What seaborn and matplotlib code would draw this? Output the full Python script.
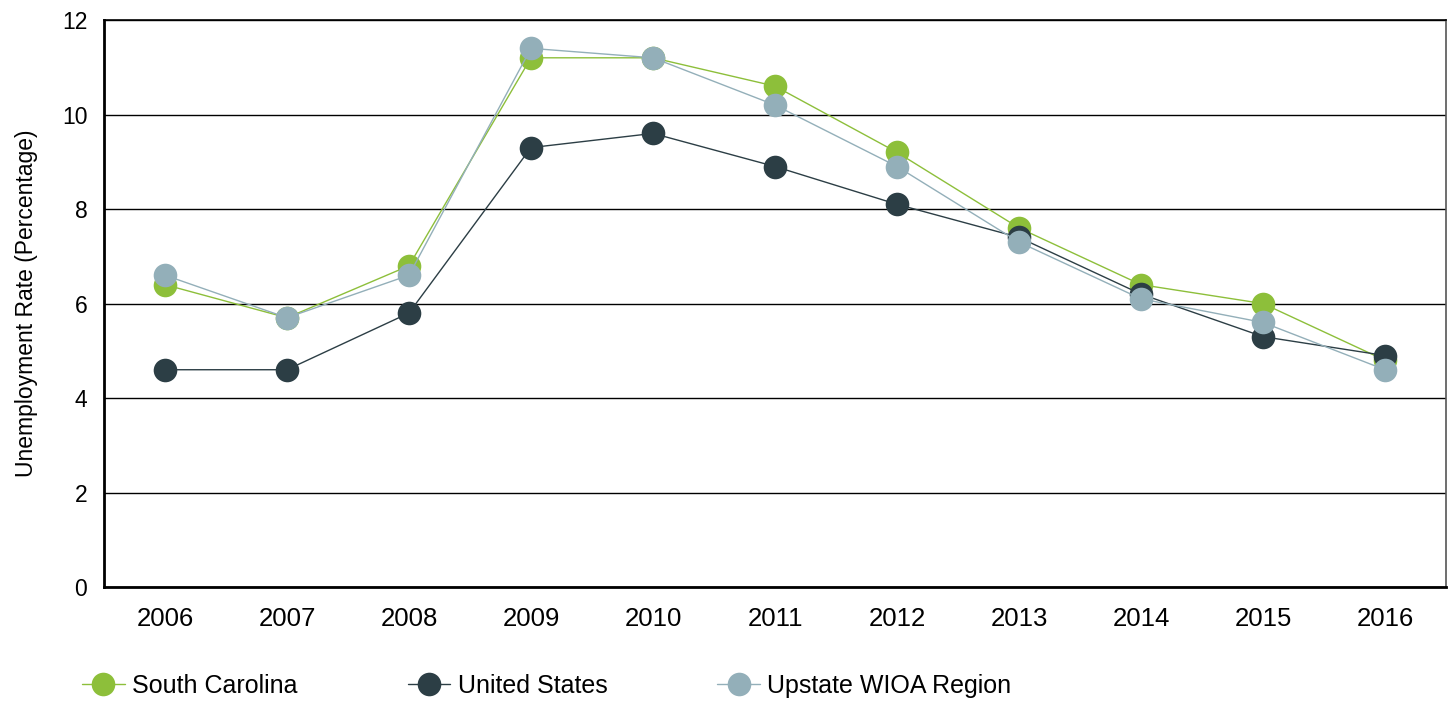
import pandas as pd
import seaborn as sns
import matplotlib.pyplot as plt

years = ["2006", "2007", "2008", "2009", "2010", "2011",
         "2012", "2013", "2014", "2015", "2016"]
south_carolina = [6.4, 5.7, 6.8, 11.2, 11.2, 10.6, 9.2, 7.6, 6.4, 6.0, 4.8]
united_states = [4.6, 4.6, 5.8, 9.3, 9.6, 8.9, 8.1, 7.4, 6.2, 5.3, 4.9]
upstate = [6.6, 5.7, 6.6, 11.4, 11.2, 10.2, 8.9, 7.3, 6.1, 5.6, 4.6]
series = ["South Carolina", "United States", "Upstate WIOA Region"]
colors = ["#8dbf3a", "#2c3e45", "#93afb9"]

df = pd.DataFrame({
    "Year": years * 3,
    "Rate": south_carolina + united_states + upstate,
    "Series": [s for s in series for _ in years],
})

sns.set_style("white")
plt.rcParams["font.family"] = ["Liberation Sans", "DejaVu Sans"]

fig = plt.figure(figsize=(14.52, 7.04), dpi=100)
ax = fig.add_axes([0.0716, 0.166, 0.9243, 0.8056])

sns.lineplot(
    data=df, x="Year", y="Rate", hue="Series", hue_order=series,
    palette=dict(zip(series, colors)), marker="o", markersize=17,
    markeredgewidth=0, linewidth=1, sort=False, ax=ax, legend=True,
)

ax.set_ylim(0, 12)
ax.set_xlim(-0.5, 10.5)
ax.set_yticks(range(0, 13, 2))
ax.yaxis.grid(True, color="black", linewidth=1)
ax.set_axisbelow(True)
ax.set_xlabel("")
ax.set_ylabel("Unemployment Rate (Percentage)", fontsize=16.5, labelpad=17,
              color="black")
ax.tick_params(axis="both", length=0, labelcolor="black")
ax.tick_params(axis="x", pad=14, labelsize=18.5)
ax.tick_params(axis="y", pad=12, labelsize=16.5)

for side in ["left", "bottom"]:
    ax.spines[side].set_color("black")
    ax.spines[side].set_linewidth(2)
ax.spines["top"].set_color("black")
ax.spines["top"].set_linewidth(1.2)
ax.spines["right"].set_color("#555555")
ax.spines["right"].set_linewidth(1.2)

handles, labels = ax.get_legend_handles_labels()
ax.get_legend().remove()
leg = fig.legend(handles, labels, loc="center left",
                 bbox_to_anchor=(82 / 1452, 1 - 686 / 704),
                 ncol=3, frameon=False, fontsize=18, columnspacing=4.4,
                 handlelength=1.7, handletextpad=0.3, borderpad=0,
                 borderaxespad=0)
for t in leg.get_texts():
    t.set_color("black")

fig.savefig("out.png", dpi=100)
